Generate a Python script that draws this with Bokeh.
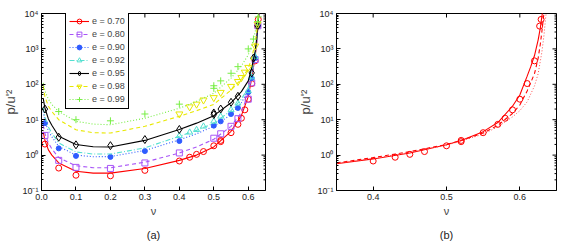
from bokeh.plotting import figure
from bokeh.layouts import row
from bokeh.models import FixedTicker, CustomJSTickFormatter, Title, Range1d
from bokeh.embed import file_html
from bokeh.resources import INLINE

FONT = "Liberation Sans"

# ---------------- data: panel (a) ----------------
e_labels = ["e = 0.70", "e = 0.80", "e = 0.90", "e = 0.92", "e = 0.95", "e = 0.98", "e = 0.99"]

# model curves
xa_curve = [0.005, 0.01, 0.02, 0.03, 0.05, 0.1, 0.15, 0.2, 0.3, 0.4, 0.45, 0.5, 0.55, 0.58,
            0.6, 0.61, 0.62, 0.625, 0.63, 0.633]
ya_070 = [4.5, 2.6, 1.4, 1.0, 0.6, 0.35, 0.31, 0.31, 0.42, 0.71, 1.0, 1.7, 4.7, 13, 45, 150, 600, 1700, 8000, 20000]
ya_080 = [7, 4, 2.2, 1.5, 0.85, 0.5, 0.44, 0.44, 0.63, 1.15, 1.7, 2.8, 6.5, 16, 55, 160, 600, 1700, 8000, 20000]
ya_090 = [17, 9, 4.8, 3.3, 1.75, 1.0, 0.9, 0.91, 1.35, 2.7, 4.0, 6.5, 14, 30, 69, 180, 650, 1800, 8000, 20000]
ya_092 = [22, 12, 6.2, 4.2, 2.2, 1.23, 1.07, 1.07, 1.6, 3.4, 5.0, 8, 18, 38, 80, 200, 700, 1900, 8000, 20000]
ya_095 = [40, 21, 10.5, 7, 3.4, 2.0, 1.72, 1.7, 2.6, 5.3, 8, 13, 30, 62, 125, 290, 850, 2200, 8500, 20000]
ya_098 = [90, 45, 24, 17, 10, 5.2, 4.3, 4.2, 6.5, 12.5, 18, 27, 69, 140, 280, 550, 1500, 3300, 10000, 20000]
ya_099 = [110, 65, 38, 27, 17, 9, 7.5, 7.2, 11, 21, 33, 56, 150, 330, 680, 1200, 3000, 5500, 15000, 30000]

# simulation points
xp_070 = [0.01, 0.05, 0.1, 0.2, 0.3, 0.40, 0.43, 0.45, 0.47, 0.50, 0.52, 0.52, 0.55, 0.57, 0.58, 0.59, 0.60, 0.61, 0.62, 0.627, 0.629]
yp_070 = [2.05, 0.43, 0.27, 0.26, 0.37, 0.68, 0.87, 1.05, 1.26, 1.83, 2.4, 2.6, 4.3, 7.4, 11, 19, 38, 105, 460, 4400, 6800]
xp_080 = [0.01, 0.05, 0.1, 0.2, 0.3, 0.4, 0.5, 0.52, 0.55, 0.57, 0.6, 0.61, 0.62, 0.628]
yp_080 = [3.6, 0.71, 0.45, 0.42, 0.6, 1.15, 3.0, 4.0, 6.5, 10.7, 38, 110, 500, 4500]
xp_090 = [0.01, 0.05, 0.1, 0.2, 0.3, 0.4, 0.5, 0.52, 0.55, 0.57, 0.6, 0.61, 0.62, 0.628]
yp_090 = [8, 1.55, 0.95, 0.89, 1.3, 2.5, 6.8, 9, 14.5, 21.5, 60, 150, 550, 4500]
xp_092 = [0.4, 0.43, 0.45, 0.47, 0.5, 0.52, 0.55, 0.57, 0.6, 0.61, 0.62]
yp_092 = [3.5, 4.4, 5.2, 6.5, 9, 12.4, 19, 29, 65, 160, 600]
xp_095 = [0.01, 0.05, 0.1, 0.2, 0.3, 0.4, 0.5, 0.5, 0.52, 0.55, 0.57, 0.61, 0.615, 0.627]
yp_095 = [20, 3.2, 1.95, 1.85, 2.75, 5.3, 15.5, 14, 20, 31, 46, 210, 550, 4500]
xp_098 = [0.4, 0.43, 0.45, 0.47, 0.5, 0.52, 0.55, 0.57, 0.58, 0.59, 0.6, 0.62, 0.627]
yp_098 = [14.5, 23, 27.5, 36, 42, 59, 87, 120, 155, 220, 300, 1200, 5000]
xp_099 = [0.05, 0.1, 0.2, 0.3, 0.4, 0.5, 0.5, 0.52, 0.55, 0.57, 0.6, 0.615, 0.627, 0.629]
yp_099 = [17, 10, 9.3, 14.5, 27.5, 91, 77, 125, 205, 315, 1000, 1900, 5900, 8000]

# ---------------- data: panel (b) ----------------
xb_solid = [0.35, 0.40, 0.45, 0.50, 0.52, 0.55, 0.57, 0.59, 0.60, 0.61, 0.615, 0.62, 0.625, 0.628, 0.63, 0.632]
yb_solid = [0.57, 0.78, 1.15, 1.95, 2.6, 4.6, 8.3, 24, 50, 170, 320, 650, 1800, 4000, 8000, 16000]
xb_dash = [0.35, 0.40, 0.45, 0.50, 0.52, 0.55, 0.57, 0.59, 0.60, 0.61, 0.62, 0.625, 0.628, 0.63, 0.632, 0.634]
yb_dash = [0.6, 0.85, 1.25, 2.0, 2.6, 4.2, 6.9, 15, 26, 65, 200, 550, 1400, 3000, 7000, 16000]
xb_dot = [0.35, 0.40, 0.45, 0.50, 0.52, 0.55, 0.57, 0.59, 0.60, 0.61, 0.62, 0.625, 0.63, 0.633, 0.635, 0.637]
yb_dot = [0.58, 0.8, 1.2, 1.9, 2.5, 3.9, 6.3, 12, 18, 32, 90, 200, 800, 2500, 7000, 16000]
xb_pts = [0.40, 0.43, 0.45, 0.47, 0.50, 0.52, 0.52, 0.55, 0.57, 0.58, 0.59, 0.60, 0.61, 0.62, 0.627, 0.629]
yb_pts = [0.68, 0.87, 1.05, 1.26, 1.83, 2.4, 2.6, 4.3, 7.4, 11, 19, 38, 105, 460, 4400, 6800]

# ticks
xticks_a = [0.0, 0.1, 0.2, 0.3, 0.4, 0.5, 0.6]
xticks_b = [0.4, 0.5, 0.6]
yticks = [0.1, 1, 10, 100, 1000, 10000]
ytick_labels = ["10\u207b\u00b9", "10\u2070", "10\u00b9", "10\u00b2", "10\u00b3", "10\u2074"]
yminor = [m * t for t in yticks[:-1] for m in range(2, 10)]

RED = "#ff0000"
PURPLE = "#a855f7"
BLUE = "#2f5cff"
CYAN = "#55e0d0"
BLACK = "#000000"
YELLOW = "#e8e800"
GREEN = "#77ee44"


def make_fig(xr, xt, frame_w, left, right, panel_label):
    p = figure(frame_width=frame_w, frame_height=177, x_range=Range1d(*xr),
               y_range=Range1d(0.1, 10000), y_axis_type="log",
               output_backend="svg", toolbar_location=None,
               min_border_left=left, min_border_right=right,
               min_border_top=13, min_border_bottom=40)
    p.grid.visible = False
    p.outline_line_color = "black"
    p.outline_line_alpha = 1
    p.background_fill_color = "white"
    p.border_fill_color = "white"

    p.xaxis.ticker = FixedTicker(ticks=xt)
    p.xaxis.formatter = CustomJSTickFormatter(code="return tick.toFixed(1);")
    p.yaxis.ticker = FixedTicker(ticks=yticks, minor_ticks=yminor)
    p.yaxis.formatter = CustomJSTickFormatter(
        args=dict(vals=yticks, labs=ytick_labels),
        code="""
        let best = 0, d = Infinity;
        for (let i = 0; i < vals.length; i++) {
          const dd = Math.abs(Math.log10(vals[i]) - Math.log10(tick));
          if (dd < d) { d = dd; best = i; }
        }
        return labs[best];
        """)
    for ax in p.xaxis + p.yaxis:
        ax.major_tick_in = 4
        ax.major_tick_out = 0
        ax.minor_tick_in = 2
        ax.minor_tick_out = 0
        ax.major_label_text_font = FONT
        ax.major_label_text_font_size = "9px"
        ax.major_label_text_color = "#222222"
        ax.axis_label_text_font = FONT
        ax.axis_label_text_font_size = "11px"
        ax.axis_label_text_font_style = "normal"
        ax.major_label_standoff = 3
        ax.axis_label_standoff = 2
        ax.axis_line_color = "black"
    p.xaxis.minor_tick_line_color = None
    p.xaxis.axis_label = "\u03bd"
    p.yaxis.axis_label = "p/u'\u00b2"
    p.yaxis.axis_label_text_font_size = "13px"
    p.yaxis.axis_label_standoff = 1

    # inward ticks on the top and right edges of the box (dash markers centred on the edge)
    p.scatter(xt, [10000] * len(xt), marker="dash", angle=1.5708, size=8,
              line_color="black", line_width=1)
    p.scatter([xr[1]] * len(yticks), yticks, marker="dash", size=8,
              line_color="black", line_width=1)
    p.scatter([xr[1]] * len(yminor), yminor, marker="dash", size=4,
              line_color="black", line_width=1)

    t = Title(text=panel_label, align="center", text_font=FONT, standoff=14,
              text_font_size="11px", text_font_style="normal", text_color="#222222")
    p.add_layout(t, "below")
    return p


# ---------------- panel (a) ----------------
pa = make_fig((0.0, 0.65), xticks_a, 224, 31, 27, "(a)")

series = [
    (ya_070, xp_070, yp_070, RED, "solid", "circle", 6, False),
    (ya_080, xp_080, yp_080, PURPLE, "4 3", "square", 6, False),
    (ya_090, xp_090, yp_090, BLUE, "1 2", "circle", 5, True),
    (ya_092, xp_092, yp_092, CYAN, "5 2 1 2", "triangle", 6, False),
    (ya_095, xp_095, yp_095, BLACK, "solid", "diamond", 8, False),
    (ya_098, xp_098, yp_098, YELLOW, "4 3", "inverted_triangle", 7, False),
    (ya_099, xp_099, yp_099, GREEN, "1 2", "cross", 7, False),
]
for (yc, xp, yp, col, dash, mk, sz, filled), lab in zip(series, e_labels):
    pa.line(xa_curve, yc, line_color=col, line_width=1.1, line_dash=dash, legend_label=lab)
    pa.scatter(xp, yp, marker=mk, size=sz, line_color=col, line_width=1,
               fill_color=col if filled else None, legend_label=lab)

lg = pa.legend[0]
lg.location = (24, 81)
lg.border_line_color = "black"
lg.border_line_width = 1
lg.border_line_alpha = 1
lg.background_fill_color = "white"
lg.background_fill_alpha = 1
lg.label_text_font = FONT
lg.label_text_font_size = "9px"
lg.glyph_width = 20
lg.glyph_height = 12
lg.label_height = 12
lg.spacing = 1
lg.padding = 3
lg.margin = 0
lg.label_standoff = 3

# ---------------- panel (b) ----------------
pb = make_fig((0.35, 0.65), xticks_b, 220, 44, 19, "(b)")
pb.line(xb_solid, yb_solid, line_color=RED, line_width=1.1)
pb.line(xb_dash, yb_dash, line_color=RED, line_width=1.1, line_dash="4 3")
pb.line(xb_dot, yb_dot, line_color="#ff5050", line_width=1.0, line_dash="1 2")
pb.scatter(xb_pts, yb_pts, marker="circle", size=6, line_color=RED, line_width=1, fill_color=None)

layout = row(pa, pb)
open("out.html", "w").write(file_html(layout, INLINE))
